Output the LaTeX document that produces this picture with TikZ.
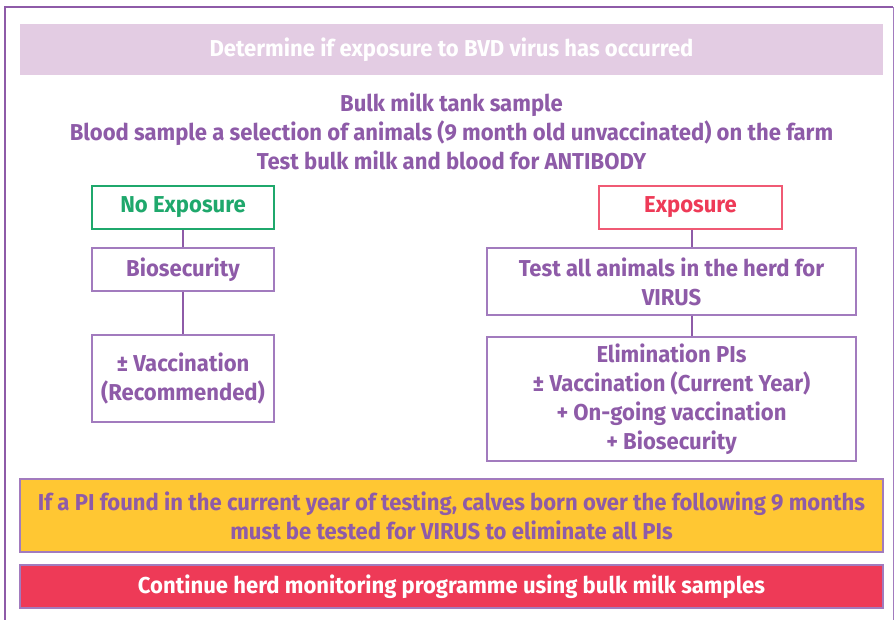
\documentclass[tikz,border=0pt]{standalone}
\usepackage{fontspec}
\setmainfont{Fira Sans}[FakeStretch=0.96]
\definecolor{vpurple}{HTML}{8E5BA8}
\definecolor{bpurple}{HTML}{A27BBE}
\definecolor{lilac}{HTML}{E3CCE3}
\definecolor{vgreen}{HTML}{1FA86C}
\definecolor{vred}{HTML}{EE3A57}
\definecolor{lred}{HTML}{F05A74}
\definecolor{vyellow}{HTML}{FFC733}
\begin{document}
\begin{tikzpicture}[x=1pt,y=-1pt,
  txt/.style={font=\bfseries\fontsize{23}{29}\selectfont, text=vpurple, align=center},
  pbox/.style={txt, draw=bpurple, line width=1.2pt, inner sep=0pt, minimum height=#1},
  link/.style={draw=vpurple, line width=2pt}]
\useasboundingbox (0,0) rectangle (894,619);
\fill[white] (0,0) rectangle (894,619);
\draw[vpurple, line width=2pt] (5,630) -- (5,7) -- (893,7);
\draw[bpurple, line width=1pt] (893,7) -- (893,630);
% title bar
\node[fill=lilac, minimum width=863, minimum height=51, inner sep=0pt,
  font=\bfseries\fontsize{23}{24}\selectfont, text=white] (title) at (451.5,49.5)
  {Determine if exposure to BVD virus has occurred};
\node[txt] (intro) at (451.5,131) {Bulk milk tank sample\\Blood sample a selection of animals (9 month old unvaccinated) on the farm\\Test bulk milk and blood for ANTIBODY};
% left branch
\node[pbox=43, draw=vgreen, text=vgreen, minimum width=182] (noexp) at (183,207.5) {No Exposure};
\node[pbox=43, minimum width=182] (bio) at (183,269.5) {Biosecurity};
\node[pbox=87, minimum width=182] (vacc) at (183,378.5) {± Vaccination\\(Recommended)};
% right branch
\node[pbox=43, draw=lred, text=vred, minimum width=183] (exp) at (690.5,207.5) {Exposure};
\node[pbox=67, minimum width=369] (test) at (671.5,281.5) {Test all animals in the herd for\\VIRUS};
\node[pbox=124, minimum width=369] (elim) at (671.5,399) {Elimination PIs\\± Vaccination (Current Year)\\+ On-going vaccination\\+ Biosecurity};
% connectors
\draw[link] (noexp.south) -- (bio.north);
\draw[link] (bio.south) -- (vacc.north);
\draw[link] (exp.south -| 692,0) -- (test.north -| 692,0);
\draw[link] (test.south -| 692,0) -- (elim.north -| 692,0);
% bottom boxes
\node[pbox=73, fill=vyellow, minimum width=863] (pi) at (451.5,515.5) {If a PI found in the current year of testing, calves born over the following 9 months\\must be tested for VIRUS to eliminate all PIs};
\node[pbox=43, fill=vred, text=white, minimum width=863] (cont) at (451.5,586.5) {Continue herd monitoring programme using bulk milk samples};
\end{tikzpicture}
\end{document}
